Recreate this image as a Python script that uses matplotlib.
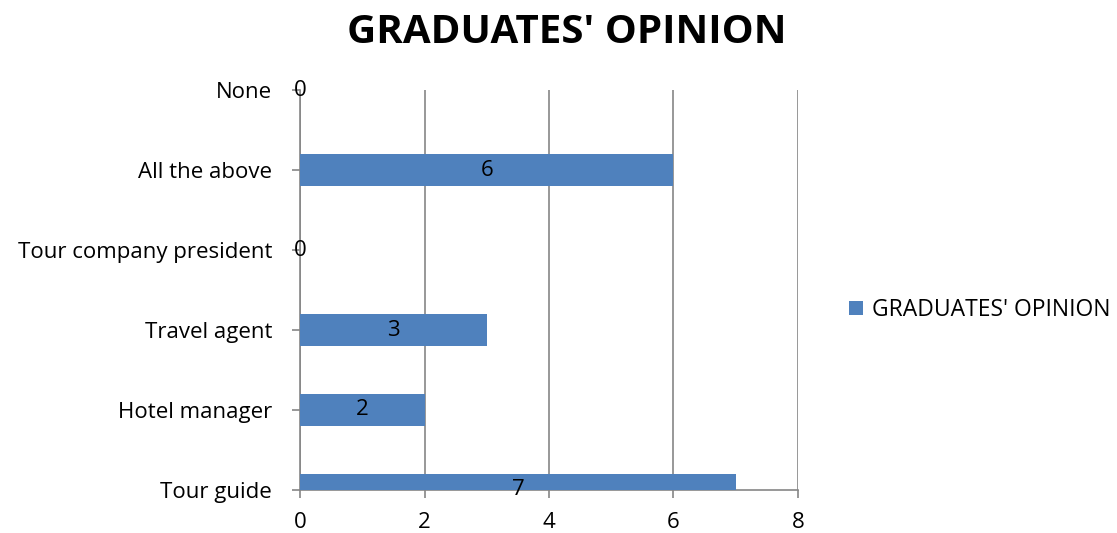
import matplotlib.pyplot as plt

categories = ['Tour guide', 'Hotel manager', 'Travel agent', 'Tour company president', 'All the above', 'None']
values = [7, 2, 3, 0, 6, 0]
x_ticks = [0, 2, 4, 6, 8]
series_name = "GRADUATES' OPINION"

plt.rcParams['font.family'] = ['Open Sans', 'DejaVu Sans']

fig = plt.figure(figsize=(11.17, 5.33), dpi=100)
ax = fig.add_axes([0.2686, 0.0807, 0.4458, 0.7504])

pos = list(range(len(categories)))
bars = ax.barh(pos, values, height=0.4, color='#4F81BD', label=series_name, zorder=3)
ax.set_ylim(0, len(categories) - 1)
ax.set_xlim(0, 8)
ax.set_xticks(x_ticks)
ax.set_yticks(pos)
ax.set_yticklabels(categories)

for p, v in zip(pos, values):
    ax.text(v / 2, p, str(v), ha='center', va='center', fontsize=16, color='black', zorder=4)

ax.grid(axis='x', color='#868686', linewidth=1.2, zorder=0)
for s in ['top', 'right']:
    ax.spines[s].set_visible(False)
for s in ['left', 'bottom']:
    ax.spines[s].set_color('#868686')
    ax.spines[s].set_linewidth(1.2)
ax.tick_params(axis='both', colors='#868686', labelcolor='black', labelsize=16, length=6, width=1.2)
ax.tick_params(axis='x', pad=10)
ax.tick_params(axis='y', pad=14)

fig.suptitle(series_name, fontsize=29, fontweight='bold', x=0.507, y=0.975)
fig.legend(loc='center left', bbox_to_anchor=(0.760, 0.418), frameon=False, fontsize=16.5,
           handlelength=0.6, handleheight=0.6, handletextpad=0.4, borderaxespad=0, borderpad=0)

plt.savefig('out.png', dpi=100)
